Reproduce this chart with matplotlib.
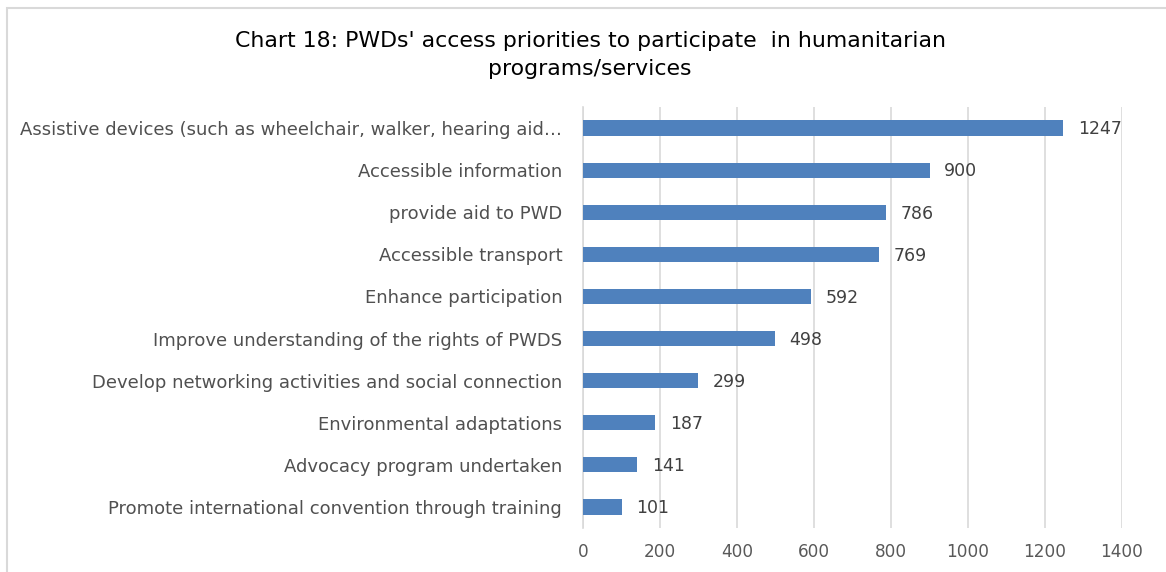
import matplotlib
matplotlib.use("Agg")
import matplotlib.pyplot as plt
from matplotlib.patches import Rectangle

categories = [
    "Assistive devices (such as wheelchair, walker, hearing aid…",
    "Accessible information",
    "provide aid to PWD",
    "Accessible transport",
    "Enhance participation",
    "Improve understanding of the rights of PWDS",
    "Develop networking activities and social connection",
    "Environmental adaptations",
    "Advocacy program undertaken",
    "Promote international convention through training",
]
values = [1247, 900, 786, 769, 592, 498, 299, 187, 141, 101]
xticks = [0, 200, 400, 600, 800, 1000, 1200, 1400]

plt.rcParams['font.family'] = ['DejaVu Sans']

W, H = 1166, 572
fig = plt.figure(figsize=(W / 100, H / 100), dpi=100)
fig.patch.set_facecolor("white")
fig.patches.append(Rectangle((7 / W, -0.1), 1.2, 1.1 - 8 / H, transform=fig.transFigure,
                             fill=False, edgecolor="#d9d9d9", linewidth=1.5))

ax = fig.add_axes([583 / W, 1 - 528 / H, (1122 - 583) / W, (528 - 107) / H])
ypos = list(range(len(categories)))[::-1]
ax.barh(ypos, values, height=0.36, color="#4f81bd", zorder=3)
for y, v in zip(ypos, values):
    ax.text(v + 38, y - 0.03, str(v), va="center", ha="left", fontsize=12.5, color="#404040")

ax.set_ylim(-0.5, len(categories) - 0.5)
ax.set_xlim(0, 1400)
ax.set_yticks(ypos)
ax.set_yticklabels(categories, fontsize=13, color="#505050")
ax.set_xticks(xticks)
ax.set_xticklabels([str(t) for t in xticks], fontsize=12.2, color="#595959")
ax.tick_params(axis="y", length=0, pad=15)
ax.tick_params(axis="x", length=0, pad=11)
ax.grid(axis="x", color="#d9d9d9", linewidth=1.2, zorder=0)
ax.set_axisbelow(True)
for s in ["top", "right", "bottom"]:
    ax.spines[s].set_visible(False)
ax.spines["left"].set_color("#d9d9d9")
ax.spines["left"].set_linewidth(1.2)

fig.text(590 / W, 1 - 41 / H, "Chart 18: PWDs' access priorities to participate  in humanitarian",
         ha="center", va="center", fontsize=15.8, color="black")
fig.text(590 / W, 1 - 69 / H, "programs/services",
         ha="center", va="center", fontsize=15.8, color="black")

fig.savefig("out.png", dpi=100, facecolor="white")
